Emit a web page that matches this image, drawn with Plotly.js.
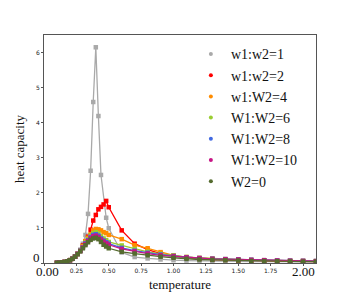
<!DOCTYPE html>
<html>
<head>
<meta charset="utf-8">
<script src="https://cdn.plot.ly/plotly-3.0.1.min.js"></script>
<style>html,body{margin:0;padding:0;background:#fff;}#chart{width:351px;height:296px;}</style>
</head>
<body>
<div id="chart"></div>
<script>
// temperature grid
const temperature = [0.10,0.12,0.14,0.16,0.18,0.20,0.22,0.24,0.26,0.28,0.30,0.32,0.34,0.36,0.38,0.40,0.42,0.44,0.46,0.48,0.50,0.60,0.70,0.80,0.90,1.00,1.10,1.20,1.30,1.40,1.50,1.60,1.70,1.80,1.90,2.00,2.10];

const seriesNames = ["w1:w2=1","w1:w2=2","w1:W2=4","W1:W2=6","W1:W2=8","W1:W2=10","W2=0"];
const seriesColors = ["#a9a9a9","#ff0000","#ff8c00","#9acd32","#4169e1","#c71585","#556b2f"];

const hc_w1 = [0.005,0.01,0.02,0.03,0.05,0.08,0.12,0.18,0.27,0.38,0.55,0.80,1.40,2.63,4.59,6.15,4.19,2.51,null,1.29,0.99,0.30,0.17,0.13,0.10,0.08,0.07,0.06,0.055,0.05,0.045,0.04,0.038,0.035,0.033,0.03,0.03];
const hc_w2 = [0.005,0.01,0.02,0.03,0.05,0.08,0.12,0.18,0.26,0.36,0.50,0.62,0.75,0.95,1.21,1.37,1.53,1.60,1.67,1.77,1.59,0.93,0.55,0.38,0.27,0.20,0.15,0.12,0.10,0.09,0.08,0.07,0.06,0.055,0.05,0.045,0.04];
const hc_w4 = [0.005,0.01,0.02,0.03,0.05,0.08,0.12,0.18,0.26,0.36,0.48,0.62,0.72,0.82,0.93,0.97,0.96,0.93,0.88,0.85,0.80,0.68,0.51,0.42,0.31,0.22,0.17,0.14,0.12,0.10,0.09,0.08,0.07,0.065,0.06,0.055,0.05];
const hc_w6 = [0.005,0.01,0.02,0.03,0.05,0.08,0.12,0.18,0.26,0.35,0.46,0.58,0.68,0.78,0.85,0.88,0.84,0.76,0.70,0.65,0.60,0.50,0.40,0.32,0.26,0.21,0.17,0.145,0.125,0.11,0.10,0.09,0.08,0.07,0.065,0.06,0.055];
const hc_w8 = [0.005,0.01,0.02,0.03,0.05,0.08,0.12,0.18,0.26,0.35,0.45,0.56,0.65,0.74,0.80,0.82,0.78,0.70,0.64,0.59,0.55,0.43,0.35,0.29,0.24,0.20,0.165,0.14,0.12,0.11,0.10,0.09,0.08,0.07,0.065,0.06,0.055];
const hc_w10 = [0.005,0.01,0.02,0.03,0.05,0.08,0.12,0.18,0.26,0.34,0.44,0.54,0.63,0.71,0.76,0.78,0.74,0.67,0.61,0.56,0.52,0.40,0.33,0.27,0.22,0.19,0.16,0.14,0.12,0.11,0.10,0.09,0.08,0.07,0.065,0.06,0.055];
const hc_w0 = [0.005,0.01,0.02,0.03,0.05,0.08,0.12,0.18,0.25,0.33,0.42,0.51,0.59,0.66,0.70,0.72,0.68,0.60,0.52,0.47,0.42,0.32,0.27,0.22,0.18,0.15,0.12,0.10,0.09,0.08,0.07,0.06,0.055,0.05,0.045,0.04,0.04];
const allSeries = [hc_w1,hc_w2,hc_w4,hc_w6,hc_w8,hc_w10,hc_w0];

const xTickVals = [0,0.25,0.5,0.75,1.0,1.25,1.5,1.75,2.0];
const xTickText = ["","0.25","0.50","0.75","1.00","1.25","1.50","1.75",""];
const yTickVals = [0,1,2,3,4,5,6];
const yTickText = ["","1","2","3","4","5","6"];

const traces = [];
allSeries.forEach((ys,i)=>{
  traces.push({
    x: temperature, y: ys, type:'scatter', mode:'lines+markers',
    connectgaps:true, showlegend:false,
    line:{color:seriesColors[i], width:1.3},
    marker:{color:seriesColors[i], symbol:'square', size:4.5}
  });
});
seriesNames.forEach((n,i)=>{
  traces.push({
    x:[null], y:[null], type:'scatter', mode:'markers', name:n,
    marker:{color:seriesColors[i], symbol:'circle', size:4}
  });
});

const serif = "Liberation Serif, Times New Roman, serif";
const layout = {
  width:351, height:296,
  margin:{l:44, r:35, t:35, b:33},
  paper_bgcolor:'#fff', plot_bgcolor:'#fff',
  showlegend:true,
  legend:{x:0.54, y:0.985, xanchor:'left', yanchor:'top', bgcolor:'rgba(0,0,0,0)',
    font:{family:serif, size:14, color:'#111'}, tracegroupgap:0},
  xaxis:{range:[0,2.1], showgrid:false, zeroline:false, showline:true, mirror:true,
    linecolor:'#555', linewidth:1, ticks:'outside', ticklen:2, tickcolor:'#555',
    tickvals:xTickVals, ticktext:xTickText,
    tickfont:{family:"DejaVu Sans", size:6, color:'#222'},
    title:{text:'temperature', font:{family:serif, size:13, color:'#111'}, standoff:6}},
  yaxis:{range:[0,6.5], showgrid:false, zeroline:false, showline:true, mirror:true,
    linecolor:'#555', linewidth:1, ticks:'outside', ticklen:2, tickcolor:'#555',
    tickvals:yTickVals, ticktext:yTickText,
    tickfont:{family:"DejaVu Sans", size:6, color:'#222'},
    title:{text:'heat capacity', font:{family:serif, size:13, color:'#111'}, standoff:8}},
  annotations:[
    {x:0, y:0, xref:'x', yref:'paper', text:'0.00', showarrow:false, yanchor:'top', xshift:3, yshift:1, font:{family:serif, size:13, color:'#111'}},
    {x:2.0, y:0, xref:'x', yref:'paper', text:'2.00', showarrow:false, yanchor:'top', xshift:0, yshift:1, font:{family:serif, size:13, color:'#111'}},
    {x:0, y:0, xref:'paper', yref:'y', text:'0', showarrow:false, xanchor:'right', xshift:-2, yshift:6, font:{family:serif, size:13, color:'#111'}}
  ]
};
Plotly.newPlot('chart', traces, layout, {staticPlot:true, displayModeBar:false});
</script>
</body>
</html>
